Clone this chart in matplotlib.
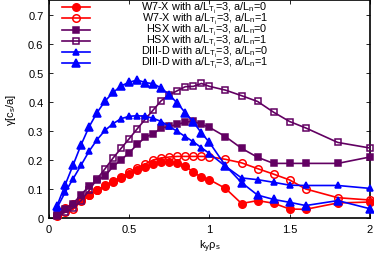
import numpy as np
import matplotlib
matplotlib.use('Agg')
import matplotlib.pyplot as plt

plt.rcParams['font.family'] = ['Liberation Sans', 'DejaVu Sans']
plt.rcParams['mathtext.fontset'] = 'custom'
plt.rcParams['mathtext.rm'] = 'Liberation Sans'
plt.rcParams['mathtext.it'] = 'Liberation Sans'

# k_y rho_s grid
ky = [0.05, 0.1, 0.15, 0.2, 0.25, 0.3, 0.35, 0.4, 0.45, 0.5,
      0.55, 0.6, 0.65, 0.7, 0.75, 0.8, 0.85, 0.9, 0.95, 1.0,
      1.1, 1.2, 1.3, 1.4, 1.5, 1.6, 1.8, 2.0]

w7x_n0 = [0.012, 0.035, 0.05, 0.064, 0.08, 0.095, 0.11, 0.123, 0.137, 0.152,
          0.165, 0.177, 0.186, 0.192, 0.192, 0.19, 0.178, 0.158, 0.14, 0.132,
          0.102, 0.05, 0.06, 0.051, 0.031, 0.03, 0.052, 0.055]
w7x_n1 = [0.008, 0.02, 0.03, 0.058, 0.08, 0.097, 0.112, 0.127, 0.142, 0.157,
          0.172, 0.186, 0.2, 0.207, 0.21, 0.212, 0.212, 0.212, 0.212, 0.211,
          0.202, 0.19, 0.17, 0.151, 0.131, 0.1, 0.07, 0.062]
hsx_n0 = [0.01, 0.03, 0.05, 0.08, 0.11, 0.13, 0.145, 0.178, 0.2, 0.225,
          0.253, 0.278, 0.29, 0.31, 0.315, 0.322, 0.33, 0.333, 0.322, 0.312,
          0.28, 0.24, 0.209, 0.188, 0.188, 0.188, 0.188, 0.21]
hsx_n1 = [0.008, 0.02, 0.035, 0.06, 0.095, 0.135, 0.17, 0.207, 0.24, 0.273,
          0.307, 0.34, 0.372, 0.404, 0.424, 0.438, 0.452, 0.453, 0.463, 0.453,
          0.44, 0.421, 0.401, 0.364, 0.332, 0.31, 0.26, 0.241]
d3d_n0 = [0.035, 0.088, 0.135, 0.182, 0.23, 0.27, 0.302, 0.325, 0.342, 0.35,
          0.352, 0.35, 0.343, 0.332, 0.315, 0.298, 0.28, 0.262, 0.242, 0.222,
          0.178, 0.138, 0.132, 0.123, 0.113, 0.112, 0.112, 0.102]
d3d_n1 = [0.042, 0.113, 0.182, 0.252, 0.314, 0.363, 0.403, 0.432, 0.455, 0.467,
          0.475, 0.466, 0.462, 0.447, 0.424, 0.395, 0.362, 0.33, 0.293, 0.26,
          0.18, 0.122, 0.079, 0.064, 0.054, 0.043, 0.06, 0.032]

labels = ["W7-X with a/L$_{\\mathrm{T_i}}$=3, a/L$_\\mathrm{n}$=0",
          "W7-X with a/L$_{\\mathrm{T_i}}$=3, a/L$_\\mathrm{n}$=1",
          "HSX with a/L$_{\\mathrm{T_i}}$=3, a/L$_\\mathrm{n}$=0",
          "HSX with a/L$_{\\mathrm{T_i}}$=3, a/L$_\\mathrm{n}$=1",
          "DIII-D with a/L$_{\\mathrm{T_i}}$=3, a/L$_\\mathrm{n}$=0",
          "DIII-D with a/L$_{\\mathrm{T_i}}$=3, a/L$_\\mathrm{n}$=1"]

red = '#ff0000'
purple = '#620062'
blue = '#0000ff'
series = [w7x_n0, w7x_n1, hsx_n0, hsx_n1, d3d_n0, d3d_n1]
colours = [red, red, purple, purple, blue, blue]
markers = ['o', 'o', 's', 's', '^', '^']
fills = [True, False, True, False, True, True]
msizes = [5.4, 5.4, 5.0, 5.0, 3.8, 5.8]

fig = plt.figure(figsize=(3.74, 2.55), dpi=100)
ax = fig.add_axes([0.131, 0.141, 0.858, 0.855])

for i in range(6):
    mfc = colours[i] if fills[i] else 'none'
    ax.plot(ky, series[i], color=colours[i], marker=markers[i], markersize=msizes[i],
            mfc=mfc, mec=colours[i], mew=1.1, lw=1.2, clip_on=False, zorder=3)
    # key entry (gnuplot style: sample left, text right-justified)
    yy = 1 - (7.3 + 11.1 * i) / 218.0
    ax.plot([0.040, 0.128], [yy, yy], transform=ax.transAxes, color=colours[i], lw=1.2)
    ax.plot([0.084], [yy], transform=ax.transAxes, color=colours[i], marker=markers[i],
            markersize=msizes[i], mfc=mfc, mec=colours[i], mew=1.1, ls='none')
    ax.text(0.682, yy, labels[i], transform=ax.transAxes, ha='right', va='center',
            fontsize=7.8)

ax.set_xlim(0, 2)
ax.set_ylim(0, 0.75)
ax.set_xticks([0, 0.5, 1, 1.5, 2])
ax.set_xticklabels(['0', '0.5', '1', '1.5', '2'])
ax.set_yticks([0, 0.1, 0.2, 0.3, 0.4, 0.5, 0.6, 0.7])
ax.set_yticklabels(['0', '0.1', '0.2', '0.3', '0.4', '0.5', '0.6', '0.7'])
ax.tick_params(direction='in', top=True, right=True, length=3, width=0.6,
               labelsize=8, pad=4)
for s in ax.spines.values():
    s.set_linewidth(1.2)

ax.set_xlabel("k$_\\mathrm{y}$\u03c1$_\\mathrm{s}$", fontsize=8, labelpad=3)
ax.set_ylabel("\u03b3[c$_\\mathrm{s}$/a]", fontsize=8, labelpad=7)

fig.savefig('out.png', dpi=100)
